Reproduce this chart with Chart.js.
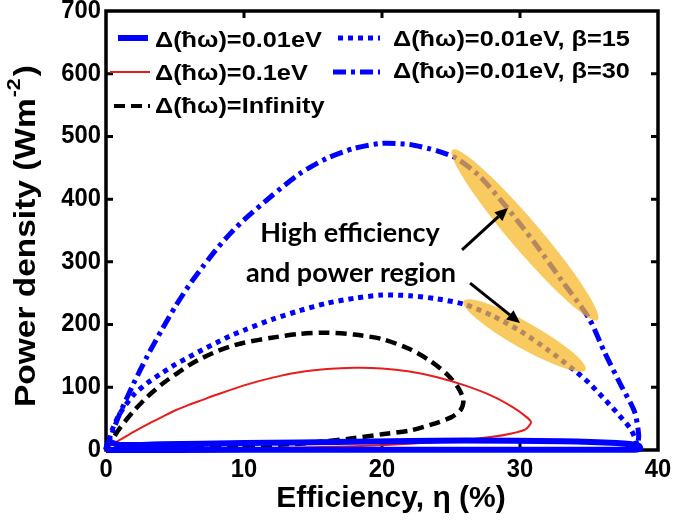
<!DOCTYPE html>
<html>
<head>
<meta charset="utf-8">
<script src="https://cdn.jsdelivr.net/npm/chart.js@4.4.0/dist/chart.umd.min.js"></script>
<style>
  html, body { margin: 0; padding: 0; background: #fff; }
</style>
</head>
<body>
<canvas id="myChart" width="675" height="523"></canvas>
<script>
// ---- data ----
// Delta(hw)=0.01eV (thick flat loop along the bottom)
const effA = [0, 0.2, 1, 4, 10, 18, 26, 33, 37, 38.6, 38.7, 38, 30, 20, 10, 0];
const powA = [0, 12, 8, 9, 11, 13, 15, 14, 11, 7, 2, 0.5, 0.5, 0.5, 0.3, 0];
// Delta(hw)=0.1eV
const effB = [0, 0.4, 1, 2, 3, 4, 5, 6, 7, 8, 10, 12, 14, 16, 18, 20, 22, 24, 26, 28, 29.5, 30.5, 30.8, 30.4, 29.3, 28, 26, 22, 18, 12, 5, 0];
const powB = [0, 8, 16, 29, 41, 52, 63, 72, 80, 88, 103, 115, 124, 129, 131, 130, 125, 116, 103, 86, 68, 52, 44, 33, 26, 21, 16, 10, 6, 3, 1, 0];
// Delta(hw)=Infinity
const effC = [0, 0.5, 1, 2, 3, 4, 5, 6, 7, 8, 9, 10, 12, 14, 16, 18, 20, 22, 23.5, 24.7, 25.5, 25.9, 25.7, 25, 23.5, 22, 20, 18, 16, 14, 10, 5, 0];
const powC = [0, 18, 35, 62, 85, 104, 120, 135, 147, 157, 165, 171, 179, 185, 187, 184, 177, 161, 142, 121, 100, 80, 64, 52, 40, 31, 25, 19, 14, 10, 6, 3, 0];
// Delta(hw)=0.01eV, beta=15
const effD = [0, 0.5, 1, 2, 3, 4, 5, 6, 7, 8, 9, 10, 12, 14, 16, 18, 20, 22, 24, 26, 28, 30, 32, 34, 35, 36, 37, 38, 38.4, 38.5];
const powD = [0, 35, 58, 88, 107, 122, 136, 148, 160, 171, 182, 191, 208, 222, 234, 242, 247, 246, 241, 232, 214, 190, 160, 126, 107, 84, 60, 34, 15, 2];
// Delta(hw)=0.01eV, beta=30
const effE = [0, 0.5, 1, 2, 3, 4, 5, 6, 7, 8, 9, 10, 12, 14, 16, 18, 20, 22, 24, 25.4, 27, 29, 31, 33, 35, 36.1, 37.3, 38.3, 38.6, 38.5];
const powE = [0, 30, 58, 106, 150, 190, 228, 262, 292, 320, 345, 367, 405, 440, 465, 481, 489, 487, 477, 465, 438, 388, 332, 271, 210, 157, 104, 61, 24, 3];

const seriesNames = ['Δ(ħω)=0.01eV', 'Δ(ħω)=0.1eV', 'Δ(ħω)=Infinity', 'Δ(ħω)=0.01eV, β=15', 'Δ(ħω)=0.01eV, β=30'];
const xTicks = [0, 10, 20, 30, 40];
const yTicks = [0, 100, 200, 300, 400, 500, 600, 700];
const noteLines = ['High efficiency', 'and power region'];

// highlighted regions (data units): start point, end point
const regions = [
    [[25.29, 473.7], [35.43, 212.1]],
    [[26.16, 234.4], [34.49, 130.8]]
];
const arrows = [
    [[25.8, 319], [29.13, 386]],
    [[26.38, 266], [30.0, 202.6]]
];

function pts(xs, ys) {
    return xs.map(function(x, i) { return {x: x, y: ys[i]}; });
}

const BLUE = '#0000ff';
const RED = 'rgb(232,28,28)';
const FONT = "'Liberation Sans', Arial, sans-serif";

function txt(ctx, s, x, y, font, align, sx) {
    ctx.save();
    ctx.font = font;
    ctx.textAlign = align;
    ctx.textBaseline = 'middle';
    ctx.translate(x, y);
    ctx.scale(sx || 1, 1);
    ctx.fillText(s, 0, 0);
    ctx.restore();
}

function sample(ctx, x1, x2, y, color, width, dash) {
    ctx.save();
    ctx.strokeStyle = color;
    ctx.lineWidth = width;
    ctx.setLineDash(dash);
    ctx.beginPath();
    ctx.moveTo(x1, y);
    ctx.lineTo(x2, y);
    ctx.stroke();
    ctx.restore();
}

const decor = {
    id: 'decor',
    beforeDatasetsDraw(chart) {
        const ctx = chart.ctx, a = chart.chartArea;
        const sx = chart.scales.x, sy = chart.scales.y;
        ctx.save();
        ctx.strokeStyle = '#000';
        ctx.lineWidth = 3.5;
        ctx.strokeRect(a.left, a.top, a.right - a.left, a.bottom - a.top);
        ctx.lineWidth = 3;
        ctx.beginPath();
        xTicks.slice(1, -1).forEach(function(v) {
            const p = sx.getPixelForValue(v);
            ctx.moveTo(p, a.bottom); ctx.lineTo(p, a.bottom - 7);
            ctx.moveTo(p, a.top); ctx.lineTo(p, a.top + 7);
        });
        yTicks.slice(1, -1).forEach(function(v) {
            const p = sy.getPixelForValue(v);
            ctx.moveTo(a.left, p); ctx.lineTo(a.left + 7, p);
            ctx.moveTo(a.right, p); ctx.lineTo(a.right - 7, p);
        });
        ctx.stroke();
        ctx.restore();
    },
    afterDatasetsDraw(chart) {
        const ctx = chart.ctx, a = chart.chartArea;
        const sx = chart.scales.x, sy = chart.scales.y;

        // highlighted regions
        ctx.save();
        ctx.fillStyle = 'rgba(247,183,40,0.74)';
        regions.forEach(function(r, i) {
            const x1 = sx.getPixelForValue(r[0][0]), y1 = sy.getPixelForValue(r[0][1]);
            const x2 = sx.getPixelForValue(r[1][0]), y2 = sy.getPixelForValue(r[1][1]);
            const len = Math.hypot(x2 - x1, y2 - y1);
            ctx.beginPath();
            ctx.ellipse((x1 + x2) / 2, (y1 + y2) / 2, len / 2 + 4, i === 0 ? 15 : 13,
                Math.atan2(y2 - y1, x2 - x1), 0, Math.PI * 2);
            ctx.fill();
        });
        ctx.restore();

        // arrows
        ctx.save();
        ctx.strokeStyle = '#000';
        ctx.fillStyle = '#000';
        ctx.lineWidth = 3;
        arrows.forEach(function(r) {
            const x1 = sx.getPixelForValue(r[0][0]), y1 = sy.getPixelForValue(r[0][1]);
            const x2 = sx.getPixelForValue(r[1][0]), y2 = sy.getPixelForValue(r[1][1]);
            const ang = Math.atan2(y2 - y1, x2 - x1);
            const hl = 13, hw = 6;
            const bx = x2 - hl * Math.cos(ang), by = y2 - hl * Math.sin(ang);
            ctx.beginPath();
            ctx.moveTo(x1, y1);
            ctx.lineTo(bx, by);
            ctx.stroke();
            ctx.beginPath();
            ctx.moveTo(x2, y2);
            ctx.lineTo(bx + hw * Math.sin(ang), by - hw * Math.cos(ang));
            ctx.lineTo(bx - hw * Math.sin(ang), by + hw * Math.cos(ang));
            ctx.closePath();
            ctx.fill();
        });
        ctx.restore();

        // note text
        ctx.fillStyle = '#000';
        txt(ctx, noteLines[0], sx.getPixelForValue(17.68), sy.getPixelForValue(345), "bold 27px Lato, 'Open Sans', sans-serif", 'center');
        txt(ctx, noteLines[1], sx.getPixelForValue(17.75), sy.getPixelForValue(282), "bold 27px Lato, 'Open Sans', sans-serif", 'center');

        // legend
        const lf = 'bold 22px ' + FONT, ls = 1.15;
        sample(ctx, a.left + 12, a.left + 42, a.top + 27, BLUE, 6, []);
        sample(ctx, a.left + 4, a.left + 44, a.top + 61, RED, 2, []);
        sample(ctx, a.left + 8, a.left + 44, a.top + 95, '#000', 4, [11, 6]);
        sample(ctx, a.left + 232, a.left + 274, a.top + 27, BLUE, 5, [5, 5]);
        sample(ctx, a.left + 227, a.left + 274, a.top + 61, BLUE, 5, [13, 5, 4, 5]);
        ctx.fillStyle = '#000';
        txt(ctx, seriesNames[0], a.left + 49, a.top + 30, lf, 'left', ls);
        txt(ctx, seriesNames[1], a.left + 49, a.top + 63, lf, 'left', ls);
        txt(ctx, seriesNames[2], a.left + 49, a.top + 96, lf, 'left', ls);
        txt(ctx, seriesNames[3], a.left + 287, a.top + 29, lf, 'left', ls);
        txt(ctx, seriesNames[4], a.left + 287, a.top + 61, lf, 'left', ls);

        // tick labels
        const tf = 'bold 25px ' + FONT;
        xTicks.forEach(function(v) {
            txt(ctx, String(v), sx.getPixelForValue(v), a.bottom + 20, tf, 'center', 0.95);
        });
        yTicks.forEach(function(v) {
            txt(ctx, String(v), a.left - 5, sy.getPixelForValue(v), tf, 'right', 0.95);
        });

        // axis titles
        txt(ctx, 'Efficiency, η (%)', (a.left + a.right) / 2 + 9, a.bottom + 49, 'bold 30px ' + FONT, 'center');

        ctx.save();
        ctx.translate(27, 236);
        ctx.rotate(-Math.PI / 2);
        const mainF = 'bold 30px ' + FONT, supF = 'bold 19px ' + FONT;
        ctx.font = mainF;
        const w1 = ctx.measureText('Power density (Wm').width;
        const w3 = ctx.measureText(')').width;
        ctx.font = supF;
        const w2 = ctx.measureText('-2').width + 3;
        const stretch = 342 / (w1 + w2 + w3);
        ctx.scale(stretch, 1);
        let x0 = -(w1 + w2 + w3) / 2;
        ctx.textBaseline = 'middle';
        ctx.textAlign = 'left';
        ctx.font = mainF;
        ctx.fillText('Power density (Wm', x0, 0);
        ctx.font = supF;
        ctx.fillText('-2', x0 + w1 + 1, -12);
        ctx.font = mainF;
        ctx.fillText(')', x0 + w1 + w2, 0);
        ctx.restore();
    }
};

const ctx = document.getElementById('myChart');
var graphData = {
    type: 'scatter',
    data: {
        datasets: [
            {label: seriesNames[0], data: pts(effA, powA), borderColor: BLUE, borderWidth: 6, tension: 0.3, clip: false},
            {label: seriesNames[1], data: pts(effB, powB), borderColor: RED, borderWidth: 2, tension: 0.25, clip: false},
            {label: seriesNames[2], data: pts(effC, powC), borderColor: '#000', borderWidth: 4.5, borderDash: [11, 6], tension: 0.25, clip: false},
            {label: seriesNames[3], data: pts(effD, powD), borderColor: BLUE, borderWidth: 5, borderDash: [5, 5], tension: 0.25, clip: false},
            {label: seriesNames[4], data: pts(effE, powE), borderColor: BLUE, borderWidth: 5, borderDash: [13, 5, 4, 5], tension: 0.25, clip: false}
        ]
    },
    options: {
        responsive: false,
        animation: false,
        showLine: true,
        elements: {point: {radius: 0}},
        layout: {padding: {top: 11, right: 17, left: 0, bottom: 0}},
        plugins: {legend: {display: false}, tooltip: {enabled: false}},
        scales: {
            x: {
                type: 'linear', min: 0, max: 40,
                grid: {display: false}, border: {display: false},
                ticks: {display: false},
                afterFit: function(s) { s.height = 73; }
            },
            y: {
                type: 'linear', min: 0, max: 700,
                grid: {display: false}, border: {display: false},
                ticks: {display: false},
                afterFit: function(s) { s.width = 106; }
            }
        }
    },
    plugins: [decor]
};
var myChart = new Chart(ctx, graphData);
</script>
</body>
</html>
